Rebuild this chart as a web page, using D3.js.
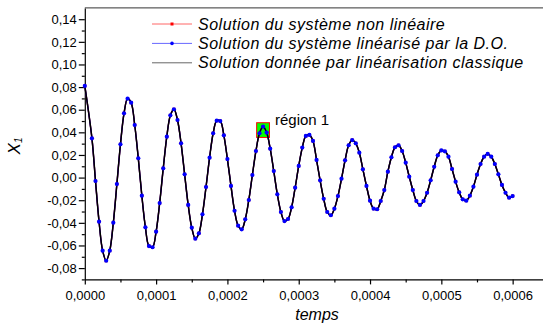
<!DOCTYPE html>
<html>
<head>
<meta charset="utf-8">
<script src="https://cdnjs.cloudflare.com/ajax/libs/d3/7.8.5/d3.min.js"></script>
<style>
body { margin: 0; background: #fff; }
svg { display: block; font-family: "Liberation Sans", Arial, sans-serif; }
</style>
</head>
<body>
<svg width="543" height="331"></svg>
<script>
// pas de temps entre deux points (s)
var pas = 5e-6;

// X1, un point tous les 5e-6 s (null = pas de point)
var x1 = [
  0.0810, null, 0.0347, -0.0030, -0.0390, -0.0646, -0.0735, -0.0646, -0.0399, -0.0057,
  0.0294, 0.0568, 0.0698, 0.0662, 0.0465, 0.0171, -0.0160, -0.0440, -0.0605, -0.0616,
  -0.0478, -0.0225, 0.0082, 0.0362, 0.0550, 0.0604, 0.0509, 0.0303, 0.0029, -0.0242,
  -0.0443, -0.0540, -0.0493, -0.0325, -0.0083, 0.0176, 0.0392, 0.0503, 0.0500, 0.0374,
  0.0164, -0.0074, -0.0293, -0.0425, -0.0457, -0.0369, -0.0198, 0.0023, 0.0235, 0.0392,
  0.0451, 0.0398, 0.0256, 0.0058, -0.0148, -0.0304, -0.0384, -0.0366, -0.0263, -0.0089,
  0.0103, 0.0265, 0.0368, 0.0377, 0.0324, 0.0156, -0.0024, -0.0187, -0.0304, -0.0333,
  -0.0275, -0.0163, -0.0010, 0.0153, 0.0286, 0.0332, 0.0303, 0.0220, 0.0073, -0.0074,
  -0.0204, -0.0275, -0.0280, -0.0207, -0.0110, 0.0052, 0.0180, 0.0268, 0.0286, 0.0235,
  0.0132, 0.0008, -0.0110, -0.0207, -0.0242, -0.0207, -0.0134, -0.0024, 0.0096, 0.0197,
  0.0240, 0.0232, 0.0185, 0.0076, -0.0036, -0.0130, -0.0192, -0.0204, -0.0160, -0.0080,
  0.0026, 0.0120, 0.0185, 0.0209, 0.0185, 0.0120, 0.0029, -0.0065, -0.0134, -0.0178,
  -0.0163
];

var legendLabels = [
  "Solution du système non linéaire",
  "Solution du système linéarisé par la D.O.",
  "Solution donnée par linéarisation classique"
];
var xTicks = [0, 0.0001, 0.0002, 0.0003, 0.0004, 0.0005, 0.0006];
var xMinor = [0.00005, 0.00015, 0.00025, 0.00035, 0.00045, 0.00055];
var yTicks = [-0.08, -0.06, -0.04, -0.02, 0, 0.02, 0.04, 0.06, 0.08, 0.10, 0.12, 0.14];
var yMinor = [-0.09, -0.07, -0.05, -0.03, -0.01, 0.01, 0.03, 0.05, 0.07, 0.09, 0.11, 0.13];
var regionT = [0.000241, 0.000259];
var regionV = [0.0355, 0.0485];

var svg = d3.select("svg");

var x = d3.scaleLinear().domain([0, 0.00065]).range([84.8, 548.3]);
var y = d3.scaleLinear().domain([-0.09, 0.15]).range([279.4, 7.9]);

var fr = d3.formatLocale({decimal: ",", thousands: " ", grouping: [3], currency: ["", ""], minus: "-"});

var pts = x1.map(function(v, i) { return {t: i * pas, v: v}; })
  .filter(function(d) { return d.v !== null; });

// cadre du haut
svg.append("line")
  .attr("x1", x(0)).attr("x2", x(0.00065))
  .attr("y1", y(0.15)).attr("y2", y(0.15))
  .attr("stroke", "#333").attr("stroke-width", 1);

// axes
svg.append("g").attr("transform", "translate(" + x(0) + ",0)")
  .call(d3.axisLeft(y).tickValues(yTicks).tickSize(6).tickSizeOuter(0).tickPadding(2)
    .tickFormat(fr.format(".2f")));
svg.append("g").attr("transform", "translate(" + x(0) + ",0)")
  .call(d3.axisLeft(y).tickValues(yMinor).tickSize(3).tickSizeOuter(0).tickFormat(""))
  .select(".domain").remove();

svg.append("g").attr("transform", "translate(0," + y(-0.09) + ")")
  .call(d3.axisBottom(x).tickValues(xTicks).tickSize(5).tickSizeOuter(0).tickPadding(6)
    .tickFormat(fr.format(".4f")));
svg.append("g").attr("transform", "translate(0," + y(-0.09) + ")")
  .call(d3.axisBottom(x).tickValues(xMinor).tickSize(3).tickSizeOuter(0).tickFormat(""))
  .select(".domain").remove();

svg.selectAll(".tick text").attr("font-size", 13).attr("font-family", "Liberation Sans, Arial, sans-serif").attr("fill", "#000");
svg.selectAll(".domain, .tick line").attr("stroke", "#000").attr("stroke-width", 1.2);

// titres des axes
svg.append("text")
  .attr("x", 317).attr("y", 320)
  .attr("text-anchor", "middle")
  .attr("font-size", 16).attr("font-style", "italic")
  .text("temps");

var yl = svg.append("text")
  .attr("transform", "translate(20,146) rotate(-90)")
  .attr("text-anchor", "middle")
  .attr("font-size", 17).attr("font-style", "italic");
yl.append("tspan").text("X");
yl.append("tspan").attr("font-size", 10).attr("dy", 2).text("1");

// région 1
svg.append("rect")
  .attr("x", x(regionT[0])).attr("y", y(regionV[1]))
  .attr("width", x(regionT[1]) - x(regionT[0]))
  .attr("height", y(regionV[0]) - y(regionV[1]))
  .attr("fill", "#00ff00").attr("stroke", "#ff0000").attr("stroke-width", 1);
svg.append("text")
  .attr("x", 275).attr("y", 125)
  .attr("font-size", 15)
  .text("région 1");

// courbes
var courbe = d3.line()
  .x(function(d) { return x(d.t); })
  .y(function(d) { return y(d.v); })
  .curve(d3.curveCatmullRom.alpha(0.5));

svg.append("path").datum(pts).attr("d", courbe)
  .attr("fill", "none").attr("stroke", "#ff0000").attr("stroke-width", 1.3);
svg.append("g").selectAll("rect").data(pts).enter().append("rect")
  .attr("x", function(d) { return x(d.t) - 1.5; })
  .attr("y", function(d) { return y(d.v) - 1.5; })
  .attr("width", 3).attr("height", 3)
  .attr("fill", "#ff0000");
svg.append("path").datum(pts).attr("d", courbe)
  .attr("fill", "none").attr("stroke", "#0000ff").attr("stroke-width", 1.3);
svg.append("path").datum(pts).attr("d", courbe)
  .attr("fill", "none").attr("stroke", "#000").attr("stroke-width", 1.5);
svg.append("g").selectAll("circle").data(pts).enter().append("circle")
  .attr("cx", function(d) { return x(d.t); })
  .attr("cy", function(d) { return y(d.v); })
  .attr("r", 2.1)
  .attr("fill", "#0000ff");

// légende
var legColors = ["#ff0000", "#0000ff", "#000"];
var leg = svg.append("g").selectAll("g").data(legendLabels).enter().append("g")
  .attr("transform", function(d, i) { return "translate(152," + (24 + i * 19.4) + ")"; });
leg.append("line")
  .attr("x1", 0).attr("x2", 40)
  .attr("stroke", function(d, i) { return legColors[i]; })
  .attr("stroke-opacity", 0.6)
  .attr("stroke-width", 1);
leg.filter(function(d, i) { return i == 0; }).append("rect")
  .attr("x", 18.5).attr("y", -1.5).attr("width", 3).attr("height", 3).attr("fill", "#ff0000");
leg.filter(function(d, i) { return i == 1; }).append("circle")
  .attr("cx", 20).attr("r", 1.8).attr("fill", "#0000ff");
leg.append("text")
  .attr("x", 46).attr("y", 5.5)
  .attr("font-size", 16).attr("font-style", "italic")
  .attr("letter-spacing", 0.5)
  .text(function(d) { return d; });
</script>
</body>
</html>
